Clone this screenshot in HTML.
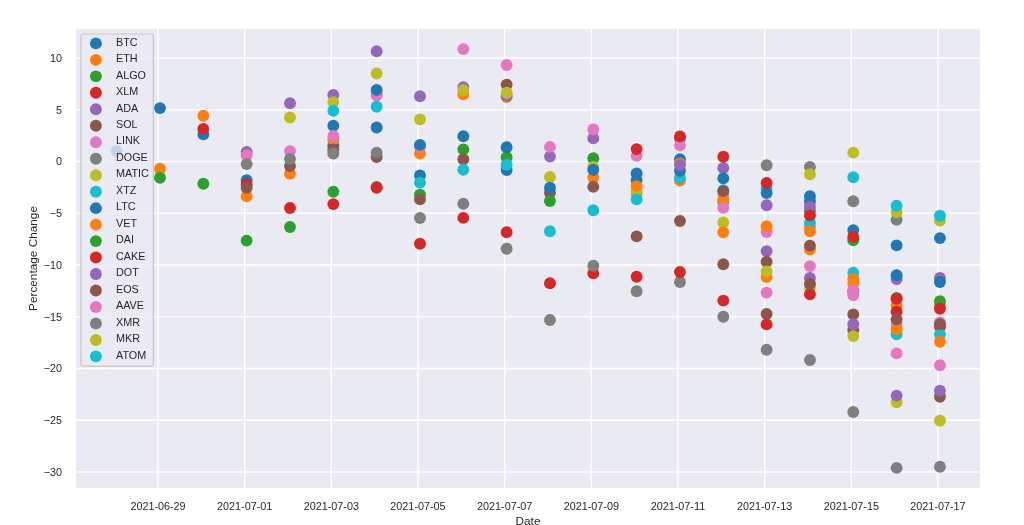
<!DOCTYPE html>
<html><head><meta charset="utf-8"><title>Percentage Change by Date</title>
<style>
html,body{margin:0;padding:0;background:#fff;width:1024px;height:525px;overflow:hidden}
svg{display:block;will-change:transform}
text{font-family:"Liberation Sans",sans-serif;fill:#262626}
.t{font-size:10.8px}
.l{font-size:11.8px}
.g{font-size:10.8px}
</style></head><body>
<svg width="1024" height="525" viewBox="0 0 1024 525">
<rect x="76" y="29" width="904" height="459" fill="#eaeaf2"/>
<path d="M76 57.9H980M76 109.65H980M76 161.4H980M76 213.15H980M76 264.9H980M76 316.65H980M76 368.4H980M76 420.15H980M76 471.9H980M158 29V488M244.66 29V488M331.32 29V488M417.98 29V488M504.64 29V488M591.3 29V488M677.96 29V488M764.62 29V488M851.28 29V488M937.94 29V488" stroke="#fff" stroke-width="1.5" fill="none"/>
<circle cx="116.67" cy="151.1" r="5.95" fill="#1f77b4"/>
<circle cx="160" cy="108.1" r="5.95" fill="#1f77b4"/>
<circle cx="160" cy="168.7" r="5.95" fill="#ff7f0e"/>
<circle cx="160" cy="177.8" r="5.95" fill="#2ca02c"/>
<circle cx="203.33" cy="134.4" r="5.95" fill="#1f77b4"/>
<circle cx="203.33" cy="115.7" r="5.95" fill="#ff7f0e"/>
<circle cx="203.33" cy="183.7" r="5.95" fill="#2ca02c"/>
<circle cx="203.33" cy="128.9" r="5.95" fill="#d62728"/>
<circle cx="246.66" cy="180.3" r="5.95" fill="#1f77b4"/>
<circle cx="246.66" cy="196.2" r="5.95" fill="#ff7f0e"/>
<circle cx="246.66" cy="240.6" r="5.95" fill="#2ca02c"/>
<circle cx="246.66" cy="184.4" r="5.95" fill="#d62728"/>
<circle cx="246.66" cy="152" r="5.95" fill="#9467bd"/>
<circle cx="246.66" cy="187.8" r="5.95" fill="#8c564b"/>
<circle cx="246.66" cy="155.3" r="5.95" fill="#e377c2"/>
<circle cx="246.66" cy="164.1" r="5.95" fill="#7f7f7f"/>
<circle cx="289.99" cy="173.8" r="5.95" fill="#ff7f0e"/>
<circle cx="289.99" cy="227" r="5.95" fill="#2ca02c"/>
<circle cx="289.99" cy="208" r="5.95" fill="#d62728"/>
<circle cx="289.99" cy="103.2" r="5.95" fill="#9467bd"/>
<circle cx="289.99" cy="166.1" r="5.95" fill="#8c564b"/>
<circle cx="289.99" cy="151.1" r="5.95" fill="#e377c2"/>
<circle cx="289.99" cy="159" r="5.95" fill="#7f7f7f"/>
<circle cx="289.99" cy="117.5" r="5.95" fill="#bcbd22"/>
<circle cx="333.32" cy="145.5" r="5.95" fill="#1f77b4"/>
<circle cx="333.32" cy="139.5" r="5.95" fill="#ff7f0e"/>
<circle cx="333.32" cy="191.8" r="5.95" fill="#2ca02c"/>
<circle cx="333.32" cy="204.1" r="5.95" fill="#d62728"/>
<circle cx="333.32" cy="125.7" r="5.95" fill="#1f77b4"/>
<circle cx="333.32" cy="95" r="5.95" fill="#9467bd"/>
<circle cx="333.32" cy="149.5" r="5.95" fill="#8c564b"/>
<circle cx="333.32" cy="136" r="5.95" fill="#e377c2"/>
<circle cx="333.32" cy="153.5" r="5.95" fill="#7f7f7f"/>
<circle cx="333.32" cy="102.1" r="5.95" fill="#bcbd22"/>
<circle cx="333.32" cy="110.7" r="5.95" fill="#17becf"/>
<circle cx="376.65" cy="127.5" r="5.95" fill="#1f77b4"/>
<circle cx="376.65" cy="93.7" r="5.95" fill="#ff7f0e"/>
<circle cx="376.65" cy="187" r="5.95" fill="#2ca02c"/>
<circle cx="376.65" cy="187.8" r="5.95" fill="#d62728"/>
<circle cx="376.65" cy="51.3" r="5.95" fill="#9467bd"/>
<circle cx="376.65" cy="157.1" r="5.95" fill="#8c564b"/>
<circle cx="376.65" cy="95.5" r="5.95" fill="#e377c2"/>
<circle cx="376.65" cy="152.6" r="5.95" fill="#7f7f7f"/>
<circle cx="376.65" cy="73.5" r="5.95" fill="#bcbd22"/>
<circle cx="376.65" cy="89.9" r="5.95" fill="#1f77b4"/>
<circle cx="376.65" cy="106.7" r="5.95" fill="#17becf"/>
<circle cx="419.98" cy="175.4" r="5.95" fill="#1f77b4"/>
<circle cx="419.98" cy="194.8" r="5.95" fill="#2ca02c"/>
<circle cx="419.98" cy="243.7" r="5.95" fill="#d62728"/>
<circle cx="419.98" cy="96.2" r="5.95" fill="#9467bd"/>
<circle cx="419.98" cy="153.6" r="5.95" fill="#ff7f0e"/>
<circle cx="419.98" cy="146.6" r="5.95" fill="#e377c2"/>
<circle cx="419.98" cy="144.9" r="5.95" fill="#1f77b4"/>
<circle cx="419.98" cy="199.4" r="5.95" fill="#8c564b"/>
<circle cx="419.98" cy="218" r="5.95" fill="#7f7f7f"/>
<circle cx="419.98" cy="119.4" r="5.95" fill="#bcbd22"/>
<circle cx="419.98" cy="182.6" r="5.95" fill="#17becf"/>
<circle cx="463.31" cy="136.2" r="5.95" fill="#1f77b4"/>
<circle cx="463.31" cy="149.4" r="5.95" fill="#2ca02c"/>
<circle cx="463.31" cy="87.1" r="5.95" fill="#9467bd"/>
<circle cx="463.31" cy="94.3" r="5.95" fill="#ff7f0e"/>
<circle cx="463.31" cy="159.3" r="5.95" fill="#8c564b"/>
<circle cx="463.31" cy="49.1" r="5.95" fill="#e377c2"/>
<circle cx="463.31" cy="203.8" r="5.95" fill="#7f7f7f"/>
<circle cx="463.31" cy="90.1" r="5.95" fill="#bcbd22"/>
<circle cx="463.31" cy="169.8" r="5.95" fill="#17becf"/>
<circle cx="463.31" cy="217.9" r="5.95" fill="#d62728"/>
<circle cx="506.64" cy="170.1" r="5.95" fill="#1f77b4"/>
<circle cx="506.64" cy="97" r="5.95" fill="#ff7f0e"/>
<circle cx="506.64" cy="157.2" r="5.95" fill="#2ca02c"/>
<circle cx="506.64" cy="95.7" r="5.95" fill="#9467bd"/>
<circle cx="506.64" cy="84.6" r="5.95" fill="#8c564b"/>
<circle cx="506.64" cy="65" r="5.95" fill="#e377c2"/>
<circle cx="506.64" cy="248.8" r="5.95" fill="#7f7f7f"/>
<circle cx="506.64" cy="92.7" r="5.95" fill="#bcbd22"/>
<circle cx="506.64" cy="147.3" r="5.95" fill="#1f77b4"/>
<circle cx="506.64" cy="164.7" r="5.95" fill="#17becf"/>
<circle cx="506.64" cy="232.2" r="5.95" fill="#d62728"/>
<circle cx="549.97" cy="192.8" r="5.95" fill="#8c564b"/>
<circle cx="549.97" cy="177" r="5.95" fill="#bcbd22"/>
<circle cx="549.97" cy="187.8" r="5.95" fill="#1f77b4"/>
<circle cx="549.97" cy="201" r="5.95" fill="#2ca02c"/>
<circle cx="549.97" cy="156.6" r="5.95" fill="#9467bd"/>
<circle cx="549.97" cy="146.9" r="5.95" fill="#e377c2"/>
<circle cx="549.97" cy="231.2" r="5.95" fill="#17becf"/>
<circle cx="549.97" cy="320" r="5.95" fill="#7f7f7f"/>
<circle cx="549.97" cy="283.2" r="5.95" fill="#d62728"/>
<circle cx="593.3" cy="177.3" r="5.95" fill="#ff7f0e"/>
<circle cx="593.3" cy="158.2" r="5.95" fill="#2ca02c"/>
<circle cx="593.3" cy="167" r="5.95" fill="#bcbd22"/>
<circle cx="593.3" cy="169.8" r="5.95" fill="#1f77b4"/>
<circle cx="593.3" cy="186.8" r="5.95" fill="#8c564b"/>
<circle cx="593.3" cy="138.3" r="5.95" fill="#9467bd"/>
<circle cx="593.3" cy="129.5" r="5.95" fill="#e377c2"/>
<circle cx="593.3" cy="210.3" r="5.95" fill="#17becf"/>
<circle cx="593.3" cy="273.4" r="5.95" fill="#d62728"/>
<circle cx="593.3" cy="265.8" r="5.95" fill="#7f7f7f"/>
<circle cx="636.63" cy="180.3" r="5.95" fill="#1f77b4"/>
<circle cx="636.63" cy="155.9" r="5.95" fill="#e377c2"/>
<circle cx="636.63" cy="193.3" r="5.95" fill="#ff7f0e"/>
<circle cx="636.63" cy="190.6" r="5.95" fill="#bcbd22"/>
<circle cx="636.63" cy="173.4" r="5.95" fill="#1f77b4"/>
<circle cx="636.63" cy="186.1" r="5.95" fill="#ff7f0e"/>
<circle cx="636.63" cy="149.1" r="5.95" fill="#d62728"/>
<circle cx="636.63" cy="199.4" r="5.95" fill="#17becf"/>
<circle cx="636.63" cy="236.4" r="5.95" fill="#8c564b"/>
<circle cx="636.63" cy="291.3" r="5.95" fill="#7f7f7f"/>
<circle cx="636.63" cy="276.7" r="5.95" fill="#d62728"/>
<circle cx="679.96" cy="159.2" r="5.95" fill="#1f77b4"/>
<circle cx="679.96" cy="163.4" r="5.95" fill="#ff7f0e"/>
<circle cx="679.96" cy="180.5" r="5.95" fill="#ff7f0e"/>
<circle cx="679.96" cy="177.8" r="5.95" fill="#17becf"/>
<circle cx="679.96" cy="170.8" r="5.95" fill="#1f77b4"/>
<circle cx="679.96" cy="165" r="5.95" fill="#9467bd"/>
<circle cx="679.96" cy="138.6" r="5.95" fill="#9467bd"/>
<circle cx="679.96" cy="145.4" r="5.95" fill="#e377c2"/>
<circle cx="679.96" cy="136.4" r="5.95" fill="#d62728"/>
<circle cx="679.96" cy="221" r="5.95" fill="#8c564b"/>
<circle cx="679.96" cy="282" r="5.95" fill="#7f7f7f"/>
<circle cx="679.96" cy="272" r="5.95" fill="#d62728"/>
<circle cx="723.29" cy="201.5" r="5.95" fill="#2ca02c"/>
<circle cx="723.29" cy="194" r="5.95" fill="#e377c2"/>
<circle cx="723.29" cy="199.7" r="5.95" fill="#ff7f0e"/>
<circle cx="723.29" cy="190.2" r="5.95" fill="#17becf"/>
<circle cx="723.29" cy="191.1" r="5.95" fill="#8c564b"/>
<circle cx="723.29" cy="207.9" r="5.95" fill="#e377c2"/>
<circle cx="723.29" cy="168" r="5.95" fill="#9467bd"/>
<circle cx="723.29" cy="178.4" r="5.95" fill="#1f77b4"/>
<circle cx="723.29" cy="156.8" r="5.95" fill="#d62728"/>
<circle cx="723.29" cy="222.4" r="5.95" fill="#bcbd22"/>
<circle cx="723.29" cy="232.3" r="5.95" fill="#ff7f0e"/>
<circle cx="723.29" cy="264.3" r="5.95" fill="#8c564b"/>
<circle cx="723.29" cy="316.8" r="5.95" fill="#7f7f7f"/>
<circle cx="723.29" cy="300.6" r="5.95" fill="#d62728"/>
<circle cx="766.62" cy="165.3" r="5.95" fill="#7f7f7f"/>
<circle cx="766.62" cy="188.4" r="5.95" fill="#17becf"/>
<circle cx="766.62" cy="193.1" r="5.95" fill="#1f77b4"/>
<circle cx="766.62" cy="183" r="5.95" fill="#d62728"/>
<circle cx="766.62" cy="205.3" r="5.95" fill="#9467bd"/>
<circle cx="766.62" cy="232" r="5.95" fill="#e377c2"/>
<circle cx="766.62" cy="226.3" r="5.95" fill="#ff7f0e"/>
<circle cx="766.62" cy="251.1" r="5.95" fill="#9467bd"/>
<circle cx="766.62" cy="277" r="5.95" fill="#ff7f0e"/>
<circle cx="766.62" cy="261.7" r="5.95" fill="#8c564b"/>
<circle cx="766.62" cy="271.4" r="5.95" fill="#bcbd22"/>
<circle cx="766.62" cy="292.6" r="5.95" fill="#e377c2"/>
<circle cx="766.62" cy="314" r="5.95" fill="#8c564b"/>
<circle cx="766.62" cy="324.4" r="5.95" fill="#d62728"/>
<circle cx="766.62" cy="349.8" r="5.95" fill="#7f7f7f"/>
<circle cx="809.95" cy="167" r="5.95" fill="#7f7f7f"/>
<circle cx="809.95" cy="174.2" r="5.95" fill="#bcbd22"/>
<circle cx="809.95" cy="201.2" r="5.95" fill="#1f77b4"/>
<circle cx="809.95" cy="196.3" r="5.95" fill="#1f77b4"/>
<circle cx="809.95" cy="210.7" r="5.95" fill="#2ca02c"/>
<circle cx="809.95" cy="206.7" r="5.95" fill="#9467bd"/>
<circle cx="809.95" cy="227" r="5.95" fill="#e377c2"/>
<circle cx="809.95" cy="222.8" r="5.95" fill="#17becf"/>
<circle cx="809.95" cy="215.4" r="5.95" fill="#d62728"/>
<circle cx="809.95" cy="231.3" r="5.95" fill="#ff7f0e"/>
<circle cx="809.95" cy="249.5" r="5.95" fill="#ff7f0e"/>
<circle cx="809.95" cy="245.8" r="5.95" fill="#8c564b"/>
<circle cx="809.95" cy="266.1" r="5.95" fill="#e377c2"/>
<circle cx="809.95" cy="277.9" r="5.95" fill="#9467bd"/>
<circle cx="809.95" cy="287.4" r="5.95" fill="#bcbd22"/>
<circle cx="809.95" cy="294.3" r="5.95" fill="#d62728"/>
<circle cx="809.95" cy="283.8" r="5.95" fill="#8c564b"/>
<circle cx="809.95" cy="360" r="5.95" fill="#7f7f7f"/>
<circle cx="853.28" cy="152.6" r="5.95" fill="#bcbd22"/>
<circle cx="853.28" cy="177.3" r="5.95" fill="#17becf"/>
<circle cx="853.28" cy="201.2" r="5.95" fill="#7f7f7f"/>
<circle cx="853.28" cy="230.1" r="5.95" fill="#1f77b4"/>
<circle cx="853.28" cy="240.2" r="5.95" fill="#2ca02c"/>
<circle cx="853.28" cy="236.9" r="5.95" fill="#d62728"/>
<circle cx="853.28" cy="272.8" r="5.95" fill="#17becf"/>
<circle cx="853.28" cy="283.5" r="5.95" fill="#ff7f0e"/>
<circle cx="853.28" cy="279" r="5.95" fill="#ff7f0e"/>
<circle cx="853.28" cy="291.2" r="5.95" fill="#d62728"/>
<circle cx="853.28" cy="290.2" r="5.95" fill="#e377c2"/>
<circle cx="853.28" cy="295.3" r="5.95" fill="#e377c2"/>
<circle cx="853.28" cy="314.4" r="5.95" fill="#8c564b"/>
<circle cx="853.28" cy="330" r="5.95" fill="#8c564b"/>
<circle cx="853.28" cy="324.3" r="5.95" fill="#9467bd"/>
<circle cx="853.28" cy="336.1" r="5.95" fill="#bcbd22"/>
<circle cx="853.28" cy="412" r="5.95" fill="#7f7f7f"/>
<circle cx="896.61" cy="219.7" r="5.95" fill="#7f7f7f"/>
<circle cx="896.61" cy="212.3" r="5.95" fill="#bcbd22"/>
<circle cx="896.61" cy="205.7" r="5.95" fill="#17becf"/>
<circle cx="896.61" cy="245.4" r="5.95" fill="#1f77b4"/>
<circle cx="896.61" cy="279.1" r="5.95" fill="#9467bd"/>
<circle cx="896.61" cy="275.2" r="5.95" fill="#1f77b4"/>
<circle cx="896.61" cy="298" r="5.95" fill="#2ca02c"/>
<circle cx="896.61" cy="305.4" r="5.95" fill="#ff7f0e"/>
<circle cx="896.61" cy="298.9" r="5.95" fill="#d62728"/>
<circle cx="896.61" cy="311.8" r="5.95" fill="#d62728"/>
<circle cx="896.61" cy="324.8" r="5.95" fill="#e377c2"/>
<circle cx="896.61" cy="334.2" r="5.95" fill="#17becf"/>
<circle cx="896.61" cy="329.2" r="5.95" fill="#ff7f0e"/>
<circle cx="896.61" cy="319.2" r="5.95" fill="#8c564b"/>
<circle cx="896.61" cy="353.4" r="5.95" fill="#e377c2"/>
<circle cx="896.61" cy="402.2" r="5.95" fill="#bcbd22"/>
<circle cx="896.61" cy="395.6" r="5.95" fill="#9467bd"/>
<circle cx="896.61" cy="467.9" r="5.95" fill="#7f7f7f"/>
<circle cx="939.94" cy="238.1" r="5.95" fill="#1f77b4"/>
<circle cx="939.94" cy="305.2" r="5.95" fill="#ff7f0e"/>
<circle cx="939.94" cy="301.3" r="5.95" fill="#2ca02c"/>
<circle cx="939.94" cy="308.7" r="5.95" fill="#d62728"/>
<circle cx="939.94" cy="278" r="5.95" fill="#9467bd"/>
<circle cx="939.94" cy="322.5" r="5.95" fill="#e377c2"/>
<circle cx="939.94" cy="326.6" r="5.95" fill="#d62728"/>
<circle cx="939.94" cy="396.7" r="5.95" fill="#8c564b"/>
<circle cx="939.94" cy="466.7" r="5.95" fill="#7f7f7f"/>
<circle cx="939.94" cy="220.6" r="5.95" fill="#bcbd22"/>
<circle cx="939.94" cy="334.3" r="5.95" fill="#17becf"/>
<circle cx="939.94" cy="282" r="5.95" fill="#1f77b4"/>
<circle cx="939.94" cy="341.7" r="5.95" fill="#ff7f0e"/>
<circle cx="939.94" cy="390.7" r="5.95" fill="#9467bd"/>
<circle cx="939.94" cy="324.1" r="5.95" fill="#8c564b"/>
<circle cx="939.94" cy="365.3" r="5.95" fill="#e377c2"/>
<circle cx="939.94" cy="420.7" r="5.95" fill="#bcbd22"/>
<circle cx="939.94" cy="215.8" r="5.95" fill="#17becf"/>
<text x="62.0" y="61.9" text-anchor="end" class="t">10</text>
<text x="62.0" y="113.65" text-anchor="end" class="t">5</text>
<text x="62.0" y="165.4" text-anchor="end" class="t">0</text>
<text x="62.0" y="217.15" text-anchor="end" class="t">−5</text>
<text x="62.0" y="268.9" text-anchor="end" class="t">−10</text>
<text x="62.0" y="320.65" text-anchor="end" class="t">−15</text>
<text x="62.0" y="372.4" text-anchor="end" class="t">−20</text>
<text x="62.0" y="424.15" text-anchor="end" class="t">−25</text>
<text x="62.0" y="475.9" text-anchor="end" class="t">−30</text>
<text x="158" y="510" text-anchor="middle" class="t">2021-06-29</text>
<text x="244.66" y="510" text-anchor="middle" class="t">2021-07-01</text>
<text x="331.32" y="510" text-anchor="middle" class="t">2021-07-03</text>
<text x="417.98" y="510" text-anchor="middle" class="t">2021-07-05</text>
<text x="504.64" y="510" text-anchor="middle" class="t">2021-07-07</text>
<text x="591.3" y="510" text-anchor="middle" class="t">2021-07-09</text>
<text x="677.96" y="510" text-anchor="middle" class="t">2021-07-11</text>
<text x="764.62" y="510" text-anchor="middle" class="t">2021-07-13</text>
<text x="851.28" y="510" text-anchor="middle" class="t">2021-07-15</text>
<text x="937.94" y="510" text-anchor="middle" class="t">2021-07-17</text>
<text x="528" y="525" text-anchor="middle" class="l">Date</text>
<text transform="translate(37,258.5) rotate(-90)" text-anchor="middle" class="l">Percentage Change</text>
<rect x="80.9" y="34" width="72.5" height="332.1" rx="2.5" fill="#eaeaf2" fill-opacity="0.8" stroke="#c6c6c9" stroke-width="1.2"/>
<circle cx="95.9" cy="43.4" r="5.95" fill="#1f77b4"/>
<text x="116.0" y="45.6" class="g">BTC</text>
<circle cx="95.9" cy="59.87" r="5.95" fill="#ff7f0e"/>
<text x="116.0" y="62.07" class="g">ETH</text>
<circle cx="95.9" cy="76.35" r="5.95" fill="#2ca02c"/>
<text x="116.0" y="78.55" class="g">ALGO</text>
<circle cx="95.9" cy="92.82" r="5.95" fill="#d62728"/>
<text x="116.0" y="95.02" class="g">XLM</text>
<circle cx="95.9" cy="109.3" r="5.95" fill="#9467bd"/>
<text x="116.0" y="111.5" class="g">ADA</text>
<circle cx="95.9" cy="125.77" r="5.95" fill="#8c564b"/>
<text x="116.0" y="127.97" class="g">SOL</text>
<circle cx="95.9" cy="142.24" r="5.95" fill="#e377c2"/>
<text x="116.0" y="144.44" class="g">LINK</text>
<circle cx="95.9" cy="158.72" r="5.95" fill="#7f7f7f"/>
<text x="116.0" y="160.92" class="g">DOGE</text>
<circle cx="95.9" cy="175.19" r="5.95" fill="#bcbd22"/>
<text x="116.0" y="177.39" class="g">MATIC</text>
<circle cx="95.9" cy="191.67" r="5.95" fill="#17becf"/>
<text x="116.0" y="193.87" class="g">XTZ</text>
<circle cx="95.9" cy="208.14" r="5.95" fill="#1f77b4"/>
<text x="116.0" y="210.34" class="g">LTC</text>
<circle cx="95.9" cy="224.61" r="5.95" fill="#ff7f0e"/>
<text x="116.0" y="226.81" class="g">VET</text>
<circle cx="95.9" cy="241.09" r="5.95" fill="#2ca02c"/>
<text x="116.0" y="243.29" class="g">DAI</text>
<circle cx="95.9" cy="257.56" r="5.95" fill="#d62728"/>
<text x="116.0" y="259.76" class="g">CAKE</text>
<circle cx="95.9" cy="274.04" r="5.95" fill="#9467bd"/>
<text x="116.0" y="276.24" class="g">DOT</text>
<circle cx="95.9" cy="290.51" r="5.95" fill="#8c564b"/>
<text x="116.0" y="292.71" class="g">EOS</text>
<circle cx="95.9" cy="306.98" r="5.95" fill="#e377c2"/>
<text x="116.0" y="309.18" class="g">AAVE</text>
<circle cx="95.9" cy="323.46" r="5.95" fill="#7f7f7f"/>
<text x="116.0" y="325.66" class="g">XMR</text>
<circle cx="95.9" cy="339.93" r="5.95" fill="#bcbd22"/>
<text x="116.0" y="342.13" class="g">MKR</text>
<circle cx="95.9" cy="356.41" r="5.95" fill="#17becf"/>
<text x="116.0" y="358.61" class="g">ATOM</text>
</svg>
</body></html>
